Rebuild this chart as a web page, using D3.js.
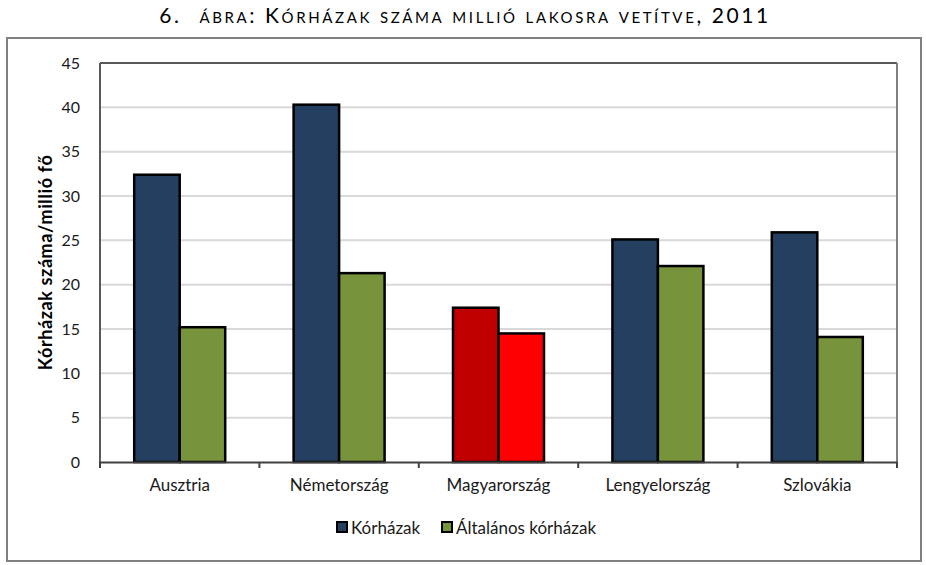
<!DOCTYPE html>
<html>
<head>
<meta charset="utf-8">
<script src="https://cdn.jsdelivr.net/npm/d3@7/dist/d3.min.js"></script>
<style>
  body { margin: 0; background: #fff; }
  svg { display: block; }
  text { font-family: Lato, "Open Sans", "Noto Sans", sans-serif; }
</style>
</head>
<body>
<svg id="chart" width="926" height="565"></svg>
<script>
const categories = ["Ausztria", "Németország", "Magyarország", "Lengyelország", "Szlovákia"];
const korhazak = [32.4, 40.3, 17.4, 25.1, 25.9];
const altalanos = [15.2, 21.3, 14.5, 22.1, 14.1];
const seriesNames = ["Kórházak", "Általános kórházak"];
const yTicks = [0, 5, 10, 15, 20, 25, 30, 35, 40, 45];
const titleNum = "6.";
const titleBody = "ábra: Kórházak száma millió lakosra vetítve, ";
const titleYear = "2011";
const yTitle = "Kórházak száma/millió fő";

const colors = ["#243f60", "#77933c"];
const hunColors = ["#c00000", "#ff0000"];

const svg = d3.select("#chart");

// outer frame
svg.append("rect").attr("x", 7).attr("y", 38).attr("width", 914).attr("height", 523)
  .attr("fill", "none").attr("stroke", "#808080").attr("stroke-width", 2);

// title
const t = svg.append("text").attr("x", 465).attr("y", 23).attr("text-anchor", "middle")
  .attr("fill", "#000").style("font-size", "21px").style("letter-spacing", "2.6px");
t.append("tspan").text(titleNum);
t.append("tspan").attr("dx", 18).text(titleBody).style("font-variant", "small-caps");
t.append("tspan").text(titleYear);

const m = { left: 100, right: 897, top: 63, bottom: 462 };
const x = d3.scaleBand().domain(categories).range([m.left, m.right]);
const y = d3.scaleLinear().domain([0, 45]).range([m.bottom, m.top]);

// gridlines
svg.append("g").selectAll("line").data(yTicks.filter(d => d > 0 && d < 45)).join("line")
  .attr("x1", m.left).attr("x2", m.right)
  .attr("y1", d => y(d)).attr("y2", d => y(d))
  .attr("stroke", "#d9d9d9").attr("stroke-width", 2);

// plot frame (top/right/left)
svg.append("line").attr("x1", m.left).attr("x2", m.right).attr("y1", m.top).attr("y2", m.top)
  .attr("stroke", "#595959").attr("stroke-width", 2);
svg.append("line").attr("x1", m.right).attr("x2", m.right).attr("y1", m.top).attr("y2", m.bottom + 6)
  .attr("stroke", "#808080").attr("stroke-width", 2);
svg.append("line").attr("x1", m.left).attr("x2", m.left).attr("y1", m.top).attr("y2", m.bottom + 2)
  .attr("stroke", "#595959").attr("stroke-width", 2);

// bars
const inner = d3.scaleBand().domain([0, 1]).range([0, 91]);
const groupOffset = (x.bandwidth() - 91) / 2;
const g = svg.append("g");
categories.forEach((c, i) => {
  const vals = [korhazak[i], altalanos[i]];
  const cols = c === "Magyarország" ? hunColors : colors;
  g.selectAll(null).data(vals).join("rect")
    .attr("x", (d, j) => x(c) + groupOffset + inner(j))
    .attr("y", d => y(d))
    .attr("width", inner.bandwidth())
    .attr("height", d => y(0) - y(d))
    .attr("fill", (d, j) => cols[j])
    .attr("stroke", "#000").attr("stroke-width", 2.5);
});

// y axis
const yAxis = svg.append("g").attr("transform", `translate(${m.left},0)`)
  .call(d3.axisLeft(y).tickValues(yTicks).tickSize(0).tickPadding(20));
yAxis.select(".domain").remove();
yAxis.selectAll("text").style("font-size", "16px").attr("fill", "#1a1a1a")
  .style("font-family", "Lato, 'Open Sans', sans-serif");

// x axis
const xAxis = svg.append("g").attr("transform", `translate(0,${m.bottom})`)
  .call(d3.axisBottom(x).tickSize(0).tickPadding(17));
xAxis.select(".domain").attr("stroke", "#404040").attr("stroke-width", 2);
xAxis.selectAll("text").style("font-size", "17px").attr("fill", "#1a1a1a")
  .style("font-family", "Lato, 'Open Sans', sans-serif");
// category boundary ticks
svg.append("g").selectAll("line").data(d3.range(categories.length + 1)).join("line")
  .attr("x1", i => m.left + i * x.step()).attr("x2", i => m.left + i * x.step())
  .attr("y1", m.bottom).attr("y2", m.bottom + 6)
  .attr("stroke", "#404040").attr("stroke-width", 2);

// y title
svg.append("text").attr("transform", `translate(52,${(m.top + m.bottom) / 2}) rotate(-90)`)
  .attr("text-anchor", "middle").style("font-size", "18px").style("font-weight", "bold")
  .style("letter-spacing", "0.6px")
  .attr("fill", "#000").text(yTitle);

// legend
const legX = [337, 442];
const leg = svg.append("g");
seriesNames.forEach((n, i) => {
  leg.append("rect").attr("x", legX[i]).attr("y", 522).attr("width", 10).attr("height", 10)
    .attr("fill", colors[i]).attr("stroke", "#000").attr("stroke-width", 2);
  leg.append("text").attr("x", legX[i] + 14).attr("y", 534)
    .style("font-size", "17px").attr("fill", "#1a1a1a").text(n);
});
</script>
</body>
</html>
